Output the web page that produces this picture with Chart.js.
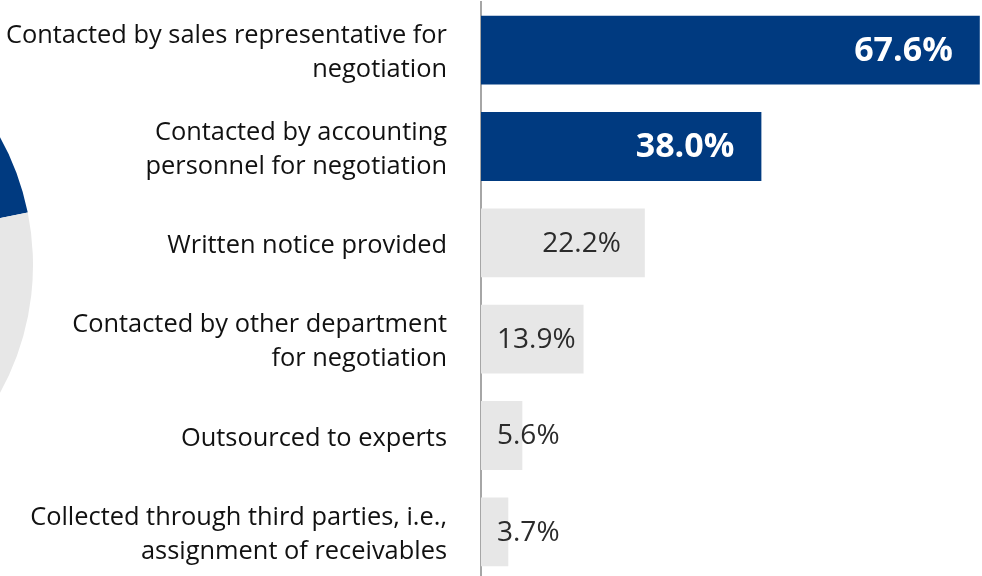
<!DOCTYPE html>
<html lang="en">
<head>
<meta charset="utf-8">
<title>Collection methods</title>
<script src="https://cdn.jsdelivr.net/npm/chart.js@4.4.1/dist/chart.umd.min.js"></script>
<style>
    html, body { margin: 0; padding: 0; background: #ffffff; overflow: hidden; }
    .stage { position: relative; width: 982px; height: 576px; overflow: hidden; }
    #pieChart { position: absolute; left: -497px; top: 0; }
    #barChart { position: absolute; left: 0; top: 0; }
</style>
</head>
<body>
<div class="stage">
    <canvas id="pieChart" width="530" height="530"></canvas>
    <canvas id="barChart" width="982" height="580"></canvas>
</div>
<script>
// --- Data ---
const categories = [
    ['Contacted by sales representative for', 'negotiation'],
    ['Contacted by accounting', 'personnel for negotiation'],
    'Written notice provided',
    ['Contacted by other department', 'for negotiation'],
    'Outsourced to experts',
    ['Collected through third parties, i.e.,', 'assignment of receivables']
];
const shares = [67.6, 38.0, 22.2, 13.9, 5.6, 3.7];
const highlighted = [true, true, false, false, false, false];

// partial pie at the left edge (only one boundary is visible)
const pieLabels = ['Blue', 'Grey'];
const pieShares = [60, 40];

const BLUE = '#003A80';
const GREY = '#E7E7E7';

document.addEventListener('DOMContentLoaded', function () {

    // --- Value labels drawn on the bars ---
    const valueLabels = {
        id: 'valueLabels',
        afterDatasetsDraw(chart) {
            const ctx = chart.ctx;
            const meta = chart.getDatasetMeta(0);
            ctx.save();
            ctx.textBaseline = 'middle';
            meta.data.forEach((bar, i) => {
                const text = shares[i].toFixed(1) + '%';
                if (highlighted[i]) {
                    ctx.font = 'bold 34px "Open Sans"';
                    ctx.fillStyle = '#ffffff';
                } else {
                    ctx.font = '28px "Open Sans"';
                    ctx.fillStyle = '#2b2b2b';
                }
                const w = ctx.measureText(text).width;
                const pad = highlighted[i] ? 27 : 24;
                let x = bar.x - pad - w;
                if (x < bar.base + 16) x = bar.base + 16;
                ctx.textAlign = 'left';
                ctx.fillText(text, x, bar.y + 1);
            });
            ctx.restore();
        }
    };

    // --- Horizontal bar chart ---
    new Chart(document.getElementById('barChart'), {
        type: 'bar',
        data: {
            labels: categories,
            datasets: [{
                data: shares,
                backgroundColor: highlighted.map(h => h ? BLUE : GREY),
                borderWidth: 0,
                barPercentage: 0.715,
                categoryPercentage: 1
            }]
        },
        options: {
            indexAxis: 'y',
            responsive: false,
            animation: false,
            layout: { padding: { top: 2, right: 0, bottom: 0, left: 0 } },
            plugins: {
                legend: { display: false },
                tooltip: { enabled: false }
            },
            scales: {
                x: {
                    display: false,
                    min: 0,
                    max: 67.9
                },
                y: {
                    grid: { display: false, drawTicks: false },
                    border: { display: true, color: '#a6a6a6', width: 2 },
                    ticks: {
                        padding: 34,
                        labelOffset: 3,
                        color: '#111111',
                        font: { family: 'Open Sans', size: 25.4, lineHeight: 1.34 }
                    },
                    afterFit: scale => {
                        // keep the label gap from eating vertical room
                        scale.width = 481;
                        scale.paddingTop = 0;
                        scale.paddingBottom = 0;
                    }
                }
            }
        },
        plugins: [valueLabels]
    });

    // --- Pie cut off by the left edge ---
    new Chart(document.getElementById('pieChart'), {
        type: 'pie',
        data: {
            labels: pieLabels,
            datasets: [{
                data: pieShares,
                backgroundColor: [BLUE, GREY],
                borderWidth: 0
            }]
        },
        options: {
            responsive: false,
            animation: false,
            rotation: -137.4,
            plugins: {
                legend: { display: false },
                tooltip: { enabled: false }
            }
        }
    });

});
</script>
</body>
</html>
